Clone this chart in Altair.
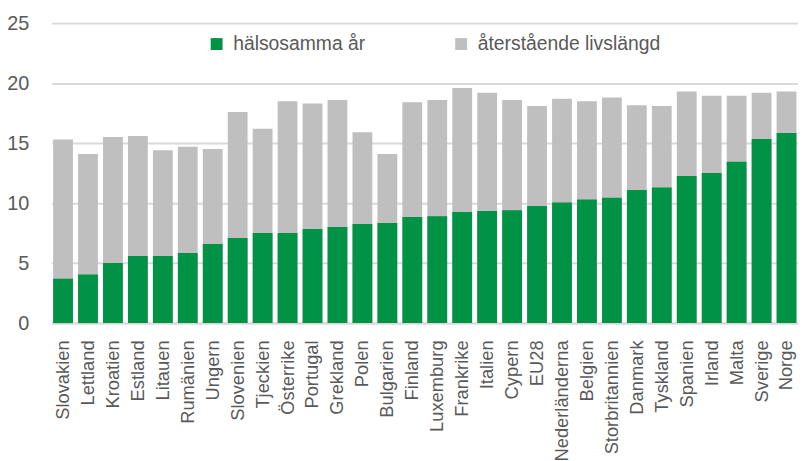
import altair as alt
import pandas as pd

countries = ["Slovakien", "Lettland", "Kroatien", "Estland", "Litauen", "Rumänien", "Ungern",
             "Slovenien", "Tjeckien", "Österrike", "Portugal", "Grekland", "Polen", "Bulgarien",
             "Finland", "Luxemburg", "Frankrike", "Italien", "Cypern", "EU28", "Nederländerna",
             "Belgien", "Storbritannien", "Danmark", "Tyskland", "Spanien", "Irland", "Malta",
             "Sverige", "Norge"]
healthy = [3.7, 4.05, 5.0, 5.6, 5.6, 5.85, 6.6, 7.1, 7.5, 7.5, 7.85, 8.0, 8.25, 8.35, 8.85,
           8.9, 9.25, 9.35, 9.4, 9.75, 10.05, 10.3, 10.45, 11.1, 11.3, 12.25, 12.5, 13.45,
           15.35, 15.85]
total = [15.3, 14.1, 15.5, 15.6, 14.4, 14.7, 14.5, 17.6, 16.2, 18.5, 18.3, 18.6, 15.9, 14.1,
         18.4, 18.6, 19.6, 19.2, 18.6, 18.1, 18.7, 18.5, 18.8, 18.15, 18.1, 19.3, 18.95, 18.95,
         19.2, 19.3]
series = ["hälsosamma år", "återstående livslängd"]
colors = ["#009245", "#bfbfbf"]
y_ticks = [0, 5, 10, 15, 20, 25]

FONT = "Liberation Sans, Arial, sans-serif"
TEXT = "#595959"

rows = []
for c, t in zip(countries, total):
    rows.append({"land": c, "serie": series[1], "ar": t})
for c, h in zip(countries, healthy):
    rows.append({"land": c, "serie": series[0], "ar": h})
df = pd.DataFrame(rows)

chart = alt.Chart(df).mark_bar().encode(
    x=alt.X("land:N", sort=countries, title=None,
            scale=alt.Scale(paddingInner=0.206, paddingOuter=0.063),
            axis=alt.Axis(labelAngle=-90, labelFontSize=18.5, labelFont=FONT, labelColor=TEXT,
                          labelPadding=17, ticks=False, domain=True, domainColor="#d9d9d9",
                          domainWidth=2, grid=False, labelLimit=200)),
    y=alt.Y("ar:Q", stack=None, title=None,
            scale=alt.Scale(domain=[0, 25], nice=False),
            axis=alt.Axis(values=y_ticks, labelFontSize=20, labelFont=FONT, labelColor=TEXT,
                          labelPadding=23, ticks=False, domain=False, grid=True,
                          gridColor="#d9d9d9", gridWidth=2)),
    color=alt.Color("serie:N", title=None,
                    scale=alt.Scale(domain=series, range=colors),
                    legend=alt.Legend(orient="none", direction="horizontal", legendX=157,
                                      legendY=11, symbolType="square", symbolSize=144,
                                      symbolStrokeWidth=0, labelFont=FONT, labelFontSize=19.5,
                                      labelColor=TEXT, labelOffset=7, columnPadding=87,
                                      padding=0, labelLimit=400)),
).properties(
    width=754, height=303,
    autosize=alt.AutoSizeParams(type="none"),
    padding={"left": 44, "top": 13, "right": 0, "bottom": 136},
).configure_view(stroke=None)

chart.save("out.html", embed_options={"renderer": "svg", "actions": False})
